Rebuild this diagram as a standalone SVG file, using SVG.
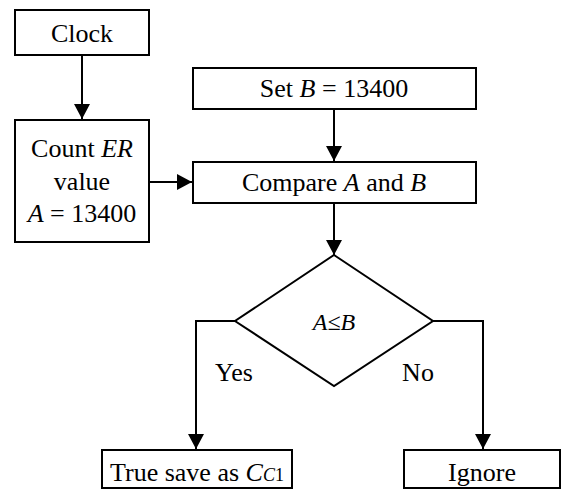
<svg xmlns="http://www.w3.org/2000/svg" width="563" height="491" viewBox="0 0 563 491">
<style>
.box{fill:#fff;stroke:#000;stroke-width:2}
.t{font-family:"Liberation Serif","Times New Roman",serif;font-size:26px;fill:#000;text-anchor:middle}
.i{font-style:italic}
.c{fill:none;stroke:#000;stroke-width:2}
</style>
<defs>
<marker id="ah" markerUnits="userSpaceOnUse" markerWidth="15" markerHeight="16" refX="15" refY="8" orient="auto">
<path d="M0,0 L15,8 L0,16 Z" fill="#000"/>
</marker>
</defs>
<g id="connectors">
<path class="c" d="M82,55 V119" marker-end="url(#ah)"/>
<path class="c" d="M149,182 H192" marker-end="url(#ah)"/>
<path class="c" d="M334,109 V161" marker-end="url(#ah)"/>
<path class="c" d="M334,203 V255" marker-end="url(#ah)"/>
<path class="c" d="M235,321 H196 V449" marker-end="url(#ah)"/>
<path class="c" d="M433,321 H483 V449" marker-end="url(#ah)"/>
<text class="t" x="234" y="381">Yes</text>
<text class="t" x="418" y="381">No</text>
</g>
<g id="clock">
<rect class="box" x="15" y="10" width="134" height="45"/>
<text class="t" x="82" y="42">Clock</text>
</g>
<g id="count">
<rect class="box" x="15" y="120" width="134" height="122"/>
<text class="t" x="82" y="157">Count <tspan class="i">ER</tspan></text>
<text class="t" x="82" y="190">value</text>
<text class="t" x="82" y="222"><tspan class="i">A</tspan> = 13400</text>
</g>
<g id="setB">
<rect class="box" x="193" y="68" width="283" height="41"/>
<text class="t" x="334" y="97">Set <tspan class="i">B</tspan> = 13400</text>
</g>
<g id="compare">
<rect class="box" x="193" y="162" width="283" height="41"/>
<text class="t" x="334" y="191">Compare <tspan class="i">A</tspan> and <tspan class="i">B</tspan></text>
</g>
<g id="decision">
<path class="box" d="M334,255 L433,321 L334,386 L235,321 Z"/>
<text class="t i" x="334" y="330" style="font-size:24px">A≤B</text>
</g>
<g id="save">
<rect class="box" x="102" y="450" width="190" height="38"/>
<text class="t" x="197" y="481">True save as <tspan class="i">C</tspan><tspan class="i" font-size="18">C</tspan><tspan font-size="18">1</tspan></text>
</g>
<g id="ignore">
<rect class="box" x="404" y="450" width="156" height="38"/>
<text class="t" x="482" y="481">Ignore</text>
</g>
</svg>
